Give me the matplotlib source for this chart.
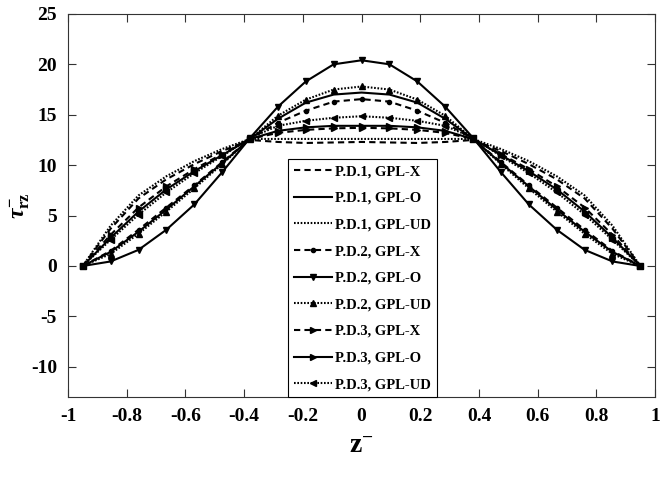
import numpy as np
import matplotlib
matplotlib.use("Agg")
from matplotlib import pyplot as plt

# shear stress through the thickness, 21 stations from -0.95 to 0.95
z = [-0.95, -0.855, -0.76, -0.665, -0.57, -0.475, -0.38, -0.285, -0.19, -0.095, 0.0,
     0.095, 0.19, 0.285, 0.38, 0.475, 0.57, 0.665, 0.76, 0.855, 0.95]

pd1_x = [0, 3.7, 6.7, 8.6, 10.1, 11.4, 12.5, 12.3, 12.2, 12.25, 12.3,
         12.25, 12.2, 12.3, 12.5, 11.4, 10.1, 8.6, 6.7, 3.7, 0]
pd1_o = [0, 1.4, 3.4, 5.6, 7.9, 10.2, 12.6, 14.6, 16.2, 17.0, 17.2,
         17.0, 16.2, 14.6, 12.6, 10.2, 7.9, 5.6, 3.4, 1.4, 0]
pd1_ud = [0, 4.0, 7.0, 8.9, 10.4, 11.6, 12.6, 12.6, 12.6, 12.6, 12.6,
          12.6, 12.6, 12.6, 12.6, 11.6, 10.4, 8.9, 7.0, 4.0, 0]
pd2_x = [0, 1.5, 3.6, 5.8, 8.0, 10.3, 12.6, 14.2, 15.4, 16.3, 16.55,
         16.3, 15.4, 14.2, 12.6, 10.3, 8.0, 5.8, 3.6, 1.5, 0]
pd2_o = [0, 0.45, 1.6, 3.6, 6.1, 9.3, 12.7, 15.8, 18.3, 20.0, 20.4,
         20.0, 18.3, 15.8, 12.7, 9.3, 6.1, 3.6, 1.6, 0.45, 0]
pd2_ud = [0, 1.2, 3.2, 5.4, 7.7, 10.1, 12.6, 14.9, 16.5, 17.5, 17.8,
          17.5, 16.5, 14.9, 12.6, 10.1, 7.7, 5.4, 3.2, 1.2, 0]
pd3_x = [0, 3.1, 5.8, 7.9, 9.6, 11.1, 12.6, 13.2, 13.5, 13.65, 13.7,
         13.65, 13.5, 13.2, 12.6, 11.1, 9.6, 7.9, 5.8, 3.1, 0]
pd3_o = [0, 2.8, 5.4, 7.6, 9.4, 11.0, 12.6, 13.4, 13.75, 13.9, 13.9,
         13.9, 13.75, 13.4, 12.6, 11.0, 9.4, 7.6, 5.4, 2.8, 0]
pd3_ud = [0, 2.6, 5.1, 7.3, 9.2, 10.9, 12.7, 13.9, 14.4, 14.7, 14.85,
          14.7, 14.4, 13.9, 12.7, 10.9, 9.2, 7.3, 5.1, 2.6, 0]

labels = ['P.D.1, GPL-X', 'P.D.1, GPL-O', 'P.D.1, GPL-UD',
          'P.D.2, GPL-X', 'P.D.2, GPL-O', 'P.D.2, GPL-UD',
          'P.D.3, GPL-X', 'P.D.3, GPL-O', 'P.D.3, GPL-UD']

plt.rcParams['font.family'] = ['Liberation Serif', 'DejaVu Serif']
plt.rcParams['font.weight'] = 'bold'
plt.rcParams['axes.unicode_minus'] = False
plt.rcParams['mathtext.fontset'] = 'custom'
plt.rcParams['mathtext.rm'] = 'Liberation Serif:bold'
plt.rcParams['mathtext.bf'] = 'Liberation Serif:bold'
plt.rcParams['mathtext.it'] = 'Liberation Serif:italic:bold'

dash = (0, (3, 2))
dot = (0, (0.8, 0.8))

fig = plt.figure(figsize=(6.61, 4.79), dpi=100)
ax = fig.add_axes([0.103, 0.171, 0.888, 0.80])

series = [pd1_x, pd1_o, pd1_ud, pd2_x, pd2_o, pd2_ud, pd3_x, pd3_o, pd3_ud]
styles = [dash, '-', dot, dash, '-', dot, dash, '-', dot]
marks = [None, None, None, 'o', 'v', '^', '>', '>', '<']
sizes = [0, 0, 0, 3, 4, 4, 4, 4, 4]

for vals, ls, mk, ms, lab in zip(series, styles, marks, sizes, labels):
    ax.plot(z, vals, color='black', linestyle=ls, linewidth=1.5,
            marker=mk, markersize=ms, label=lab)

ax.set_xlim(-1, 1)
ax.set_ylim(-13, 25)
ax.set_xticks(np.arange(-1, 1.01, 0.2))
ax.set_xticklabels(['-1', '-0.8', '-0.6', '-0.4', '-0.2', '0',
                    '0.2', '0.4', '0.6', '0.8', '1'])
ax.set_yticks(np.arange(-10, 26, 5))
ax.tick_params(direction='in', top=True, right=True, length=6,
               width=0.8, labelsize=14, pad=8, color='#333333')
for s in ax.spines.values():
    s.set_color('#333333')
    s.set_linewidth(0.8)

ax.set_xlabel(r'$\mathbf{z}^{\mathbf{-}}$', fontsize=20, labelpad=6)
ax.set_ylabel(r'$\tau^{\mathbf{-}}_{\mathbf{rz}}$', fontsize=17)
ax.yaxis.set_label_coords(-0.062, 0.5)

leg = ax.legend(loc='lower left', bbox_to_anchor=(0.375, 0.0), borderaxespad=0,
                fontsize=10.5, fancybox=False, framealpha=1, edgecolor='black',
                handlelength=2.6, handletextpad=0.2, labelspacing=0.92,
                borderpad=0.4)
leg.get_frame().set_linewidth(0.8)

fig.savefig('out.png', dpi=100)
